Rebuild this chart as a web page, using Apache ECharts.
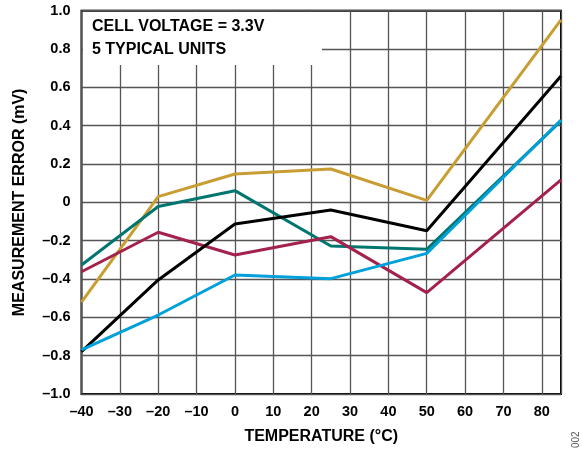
<!DOCTYPE html>
<html><head><meta charset="utf-8">
<script src="https://cdn.jsdelivr.net/npm/echarts@6/dist/echarts.min.js"></script>
<style>html,body{margin:0;padding:0;background:#fff}#c{width:582px;height:451px}</style>
</head><body><div id="c"></div>
<script>
const temps = [-40, -20, 0, 25, 50, 85];
const gold = [-0.52, 0.03, 0.148, 0.174, 0.01, 0.952];
const teal = [-0.327, -0.022, 0.061, -0.228, -0.245, 0.425];
const crimson = [-0.362, -0.156, -0.275, -0.179, -0.471, 0.117];
const black = [-0.779, -0.405, -0.113, -0.04, -0.148, 0.659];
const blue = [-0.77, -0.588, -0.379, -0.398, -0.266, 0.43];
const annotation = ['CELL VOLTAGE = 3.3V', '5 TYPICAL UNITS'];

const chart = echarts.init(document.getElementById('c'));
const font = 'Liberation Sans, Arial, sans-serif';
function mk(name, data, color){
  return {name, type:'line', data: temps.map((t,i)=>[t,data[i]]), symbol:'none',
    lineStyle:{color, width:3}, itemStyle:{color}, z:3};
}
chart.setOption({
  animation:false,
  grid:{left:81.5, right:21, top:10.7, bottom:57, show:true, borderColor:'#000', borderWidth:2, backgroundColor:'transparent'},
  xAxis:{type:'value', min:-40, max:85, interval:10,
    axisLine:{show:false}, axisTick:{show:false},
    splitLine:{show:true, lineStyle:{color:'#555', width:1.3}},
    axisLabel:{showMaxLabel:false, color:'#000', fontFamily:font, fontWeight:'bold', fontSize:14.5, margin:10,
      formatter:v=> v<0 ? '\u2013'+Math.abs(v) : String(v)},
    name:'TEMPERATURE (°C)', nameLocation:'middle', nameGap:35,
    nameTextStyle:{color:'#000', fontFamily:font, fontWeight:'bold', fontSize:16}},
  yAxis:{type:'value', min:-1, max:1, interval:0.2,
    axisLine:{show:false}, axisTick:{show:false},
    splitLine:{show:true, lineStyle:{color:'#555', width:1.3}},
    axisLabel:{color:'#000', fontFamily:font, fontWeight:'bold', fontSize:14.5, margin:11,
      formatter:v=>{ const r=Math.round(v*10)/10; if (r===0) return '0'; return (r<0?'\u2013':'')+Math.abs(r).toFixed(1);} },
    name:'MEASUREMENT ERROR (mV)', nameLocation:'middle', nameGap:53.5,
    nameTextStyle:{color:'#000', fontFamily:font, fontWeight:'bold', fontSize:16}},
  series:[
    mk('gold', gold, '#C89D32'),
    mk('teal', teal, '#00766F'),
    mk('crimson', crimson, '#A3214A'),
    mk('black', black, '#000000'),
    mk('blue', blue, '#00A0DA')
  ],
  graphic:[
    {type:'rect', shape:{x:83, y:12, width:239, height:53}, style:{fill:'#fff'}, z:5},
    {type:'text', x:92, y:19, style:{text:annotation[0], font:'bold 16px '+font, fill:'#000'}, z:6},
    {type:'text', x:92, y:42, style:{text:annotation[1], font:'bold 16px '+font, fill:'#000'}, z:6},
    {type:'text', x:571, y:448, rotation:Math.PI/2, style:{text:'002', font:'10px '+font, fill:'#555'}, z:6}
  ]
});
</script></body></html>
